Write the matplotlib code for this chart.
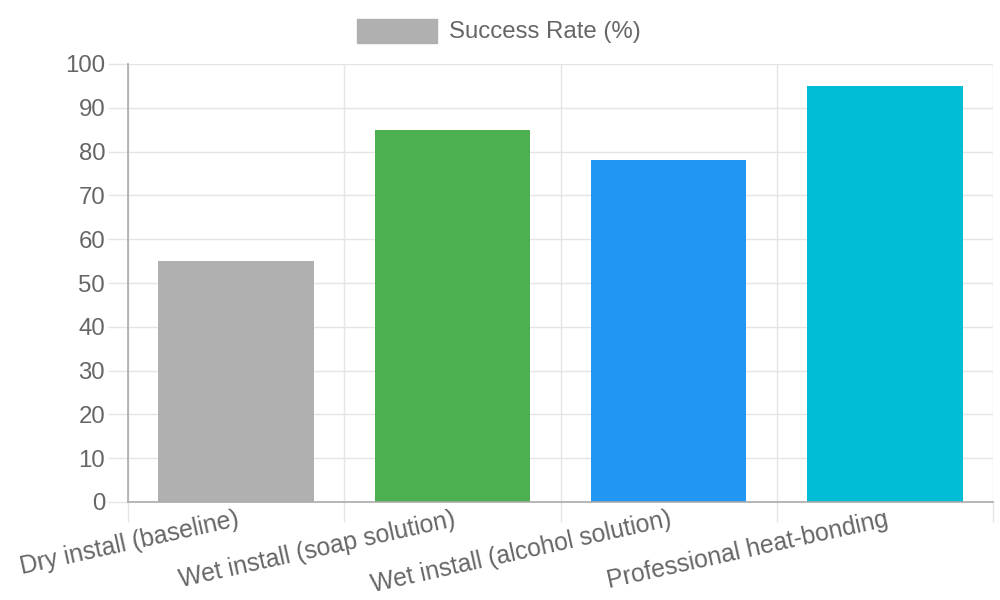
import matplotlib
matplotlib.use("Agg")
import matplotlib.pyplot as plt
from matplotlib.patches import Rectangle

# ── data ──────────────────────────────────────────────────────────────────────
methods = [
    "Dry install (baseline)",
    "Wet install (soap solution)",
    "Wet install (alcohol solution)",
    "Professional heat-bonding",
]
success_rate = [55, 85, 78, 95]
bar_colors = ["#B0B0B0", "#4CAF50", "#2196F3", "#00BCD4"]
series_label = "Success Rate (%)"
y_ticks = list(range(0, 101, 10))

TEXT = "#666666"
GRID = "#E5E5E5"
AXIS = "#AAAAAA"
FS = 17.3

plt.rcParams["font.family"] = ["Liberation Sans", "DejaVu Sans"]

fig = plt.figure(figsize=(10, 6), dpi=100)
ax = fig.add_axes([0.128, 1 - 502 / 600, 0.865, (502 - 64) / 600])

x = list(range(len(methods)))
ax.bar(x, success_rate, width=0.72, color=bar_colors, zorder=2)

ax.set_xlim(-0.5, len(methods) - 0.5)
ax.set_ylim(0, 100)

# y axis
ax.set_yticks(y_ticks)
ax.tick_params(axis="y", length=14.4, width=1, color=GRID, labelsize=FS,
               labelcolor=TEXT, pad=2)
ax.yaxis.grid(True, color=GRID, linewidth=1, zorder=0)

# x axis: gridlines on category boundaries, labels on centres
ax.set_xticks(x)
ax.set_xticklabels(methods, rotation=12.5, ha="right", rotation_mode="anchor",
                   fontsize=17.8, color=TEXT)
ax.tick_params(axis="x", which="major", length=0, pad=4)
ax.set_xticks([i - 0.5 for i in range(len(methods) + 1)], minor=True)
ax.tick_params(axis="x", which="minor", length=14.4, width=1, color=GRID)
ax.xaxis.grid(True, which="minor", color=GRID, linewidth=1, zorder=0)
ax.set_axisbelow(True)

for side in ["top", "right"]:
    ax.spines[side].set_visible(False)
for side in ["left", "bottom"]:
    ax.spines[side].set_color(AXIS)
    ax.spines[side].set_linewidth(1.2)

# legend (chart.js style, centred on top)
fig.patches.append(Rectangle((357 / 1000, 1 - 43 / 600), 80 / 1000, 24 / 600,
                             transform=fig.transFigure, color=bar_colors[0]))
fig.text(449 / 1000, 1 - 32 / 600, series_label, fontsize=FS, color=TEXT,
         va="center", ha="left")

fig.savefig("out.png", dpi=100)
